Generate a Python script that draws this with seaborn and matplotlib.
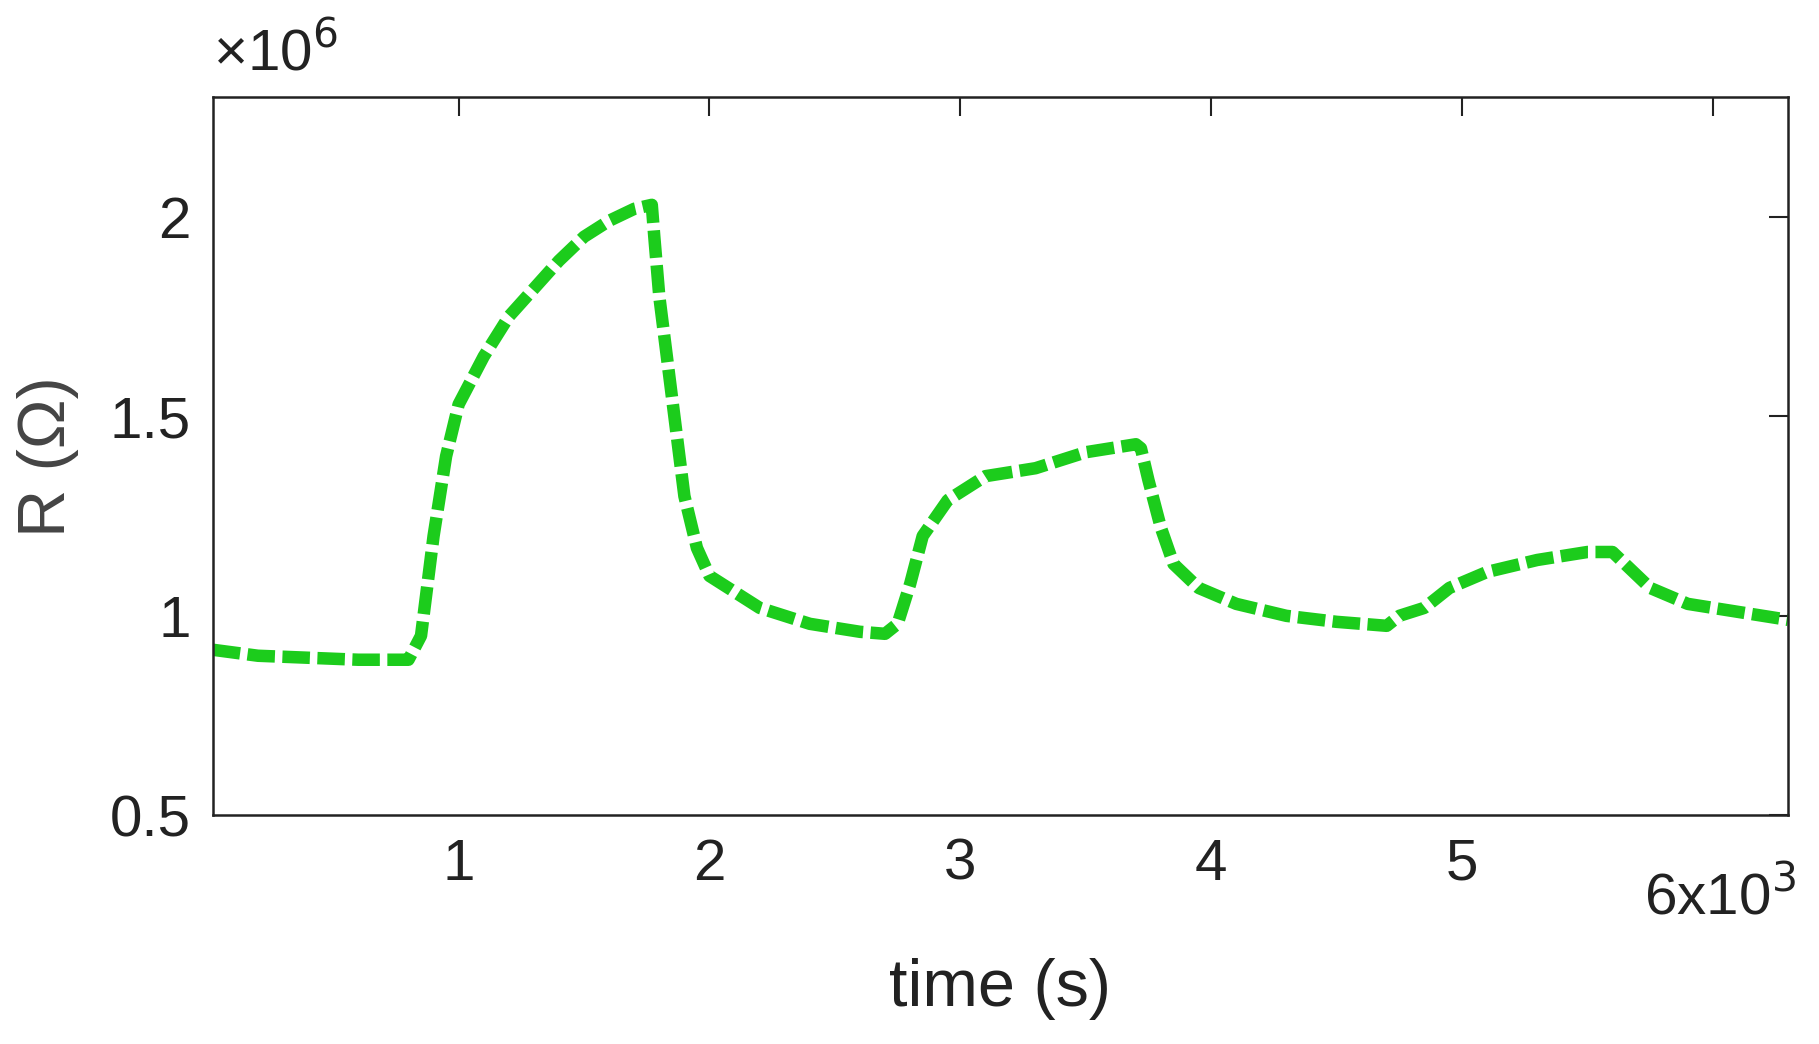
import numpy as np
import pandas as pd
import seaborn as sns
import matplotlib
matplotlib.use("Agg")
import matplotlib.pyplot as plt

# values (time in s, resistance in ohm)
time_s = [20, 200, 400, 600, 800, 850, 900, 950, 1000, 1100, 1200, 1300, 1400, 1500, 1600,
          1700, 1770, 1780, 1800, 1850, 1900, 1950, 2000, 2200, 2400, 2600, 2700, 2750,
          2800, 2850, 2950, 3100, 3300, 3500, 3700, 3720, 3750, 3800, 3850, 3950, 4100,
          4300, 4500, 4700, 4750, 4850, 4950, 5100, 5300, 5500, 5600, 5650, 5750, 5900,
          6100, 6300]
resist_M = [0.915, 0.90, 0.895, 0.89, 0.89, 0.95, 1.2, 1.4, 1.53, 1.65, 1.75, 1.82, 1.89,
            1.95, 1.99, 2.02, 2.03, 1.95, 1.8, 1.55, 1.3, 1.17, 1.10, 1.02, 0.98, 0.96, 0.955,
            0.98, 1.08, 1.2, 1.29, 1.35, 1.37, 1.41, 1.43, 1.42, 1.34, 1.22, 1.13, 1.07,
            1.03, 1.0, 0.985, 0.975, 1.0, 1.02, 1.07, 1.11, 1.14, 1.16, 1.16, 1.13, 1.07,
            1.03, 1.01, 0.99]
x_ticks = [1000, 2000, 3000, 4000, 5000, 6000]
x_labels = ["1", "2", "3", "4", "5", ""]
y_ticks = [0.5e6, 1e6, 1.5e6, 2e6]
y_labels = ["0.5", "1", "1.5", "2"]

df = pd.DataFrame({"t": time_s, "R": np.array(resist_M) * 1e6})

sns.set_style("white")
plt.rcParams["font.family"] = ["Liberation Sans", "DejaVu Sans"]

fig = plt.figure(figsize=(18.19, 10.44), dpi=100)
ax = fig.add_axes([0.117, 0.219, 0.866, 0.688])
sns.lineplot(data=df, x="t", y="R", ax=ax, color="#1ccc1c", lw=9,
             linestyle=(0, (2.2, 0.6)))
ax.set_xlim(20, 6300)
ax.set_ylim(0.5e6, 2.3e6)
ax.set_xticks(x_ticks)
ax.set_xticklabels(x_labels)
ax.set_yticks(y_ticks)
ax.set_yticklabels(y_labels)
ax.tick_params(direction="in", length=14, width=1.5, labelsize=42, colors="#222222",
               top=True, right=True, pad=16)
for s in ax.spines.values():
    s.set_linewidth(1.8)
    s.set_color("#222222")
ax.set_xlabel("time (s)", fontsize=48, color="#222222", labelpad=48)
ax.set_ylabel("R (\u03a9)", fontsize=48, color="#444444", labelpad=22)
ax.text(0.0, 1.02, "\u00d710$^6$", transform=ax.transAxes, fontsize=42, color="#222222",
        ha="left", va="bottom")
ax.text(1.005, -0.075, "6x10$^3$", transform=ax.transAxes, fontsize=42, color="#222222",
        ha="right", va="top")
fig.savefig("out.png", dpi=100)
